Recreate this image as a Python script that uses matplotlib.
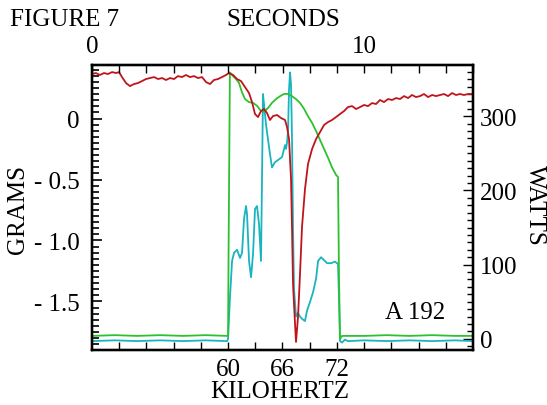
import numpy as np
import matplotlib
matplotlib.use("Agg")
import matplotlib.pyplot as plt

plt.rcParams['font.family'] = ['Liberation Serif', 'DejaVu Serif']

# ---- data ----
red_khz = [45.0, 45.44, 45.88, 46.32, 46.76, 47.21, 47.65, 47.98, 48.31, 48.75, 49.19, 49.63, 50.07,
           50.51, 50.95, 51.39, 51.84, 52.28, 52.72, 53.16, 53.60, 54.04, 54.48, 54.92, 55.36, 55.80,
           56.25, 56.69, 57.13, 57.57, 58.01, 58.45, 58.89, 59.33, 59.77, 60.10, 60.55, 60.99, 61.43,
           61.87, 62.31, 62.64, 62.97, 63.30, 63.63, 63.96, 64.29, 64.62, 64.95, 65.40, 65.84, 66.28,
           66.50, 66.72, 66.94, 67.05, 67.16, 67.38, 67.49, 67.71, 67.93, 68.15, 68.48, 68.81, 69.26,
           69.70, 70.14, 70.58, 71.02, 71.46, 71.90, 72.34, 72.78, 73.22, 73.67, 74.11, 74.55, 74.99,
           75.43, 75.87, 76.31, 76.75, 77.19, 77.64, 78.08, 78.52, 78.96, 79.40, 79.84, 80.28, 80.72,
           81.16, 81.60, 82.05, 82.49, 82.93, 83.37, 83.81, 84.25, 84.69, 85.13, 85.57, 86.01, 86.46, 87.0]
red_grams = [0.365, 0.373, 0.357, 0.373, 0.365, 0.381, 0.373, 0.381, 0.340, 0.291, 0.266, 0.283, 0.291,
             0.307, 0.324, 0.332, 0.340, 0.324, 0.332, 0.316, 0.332, 0.324, 0.348, 0.340, 0.357, 0.340,
             0.348, 0.332, 0.340, 0.299, 0.283, 0.316, 0.324, 0.340, 0.357, 0.373, 0.357, 0.324, 0.307,
             0.258, 0.209, 0.135, 0.037, 0.012, 0.061, 0.078, 0.045, -0.012, 0.020, 0.029, 0.004, -0.012,
             -0.070, -0.168, -0.496, -0.906, -1.357, -1.684, -1.832, -1.627, -1.275, -0.889, -0.578, -0.373, -0.250,
             -0.168, -0.111, -0.053, -0.029, -0.012, 0.012, 0.037, 0.061, 0.094, 0.102, 0.078, 0.094, 0.111,
             0.102, 0.127, 0.119, 0.152, 0.135, 0.160, 0.152, 0.168, 0.160, 0.184, 0.168, 0.193, 0.176,
             0.184, 0.201, 0.176, 0.193, 0.184, 0.193, 0.201, 0.184, 0.209, 0.193, 0.201, 0.193, 0.201, 0.201]

green_khz = [45.0, 47.5, 50.0, 52.5, 55.0, 57.5, 59.95, 60.0, 60.05, 60.2, 60.55, 60.88, 61.2, 61.54,
             61.87, 62.31, 62.75, 63.19, 63.63, 63.96, 64.4, 64.84, 65.28, 65.73, 66.17, 66.61, 67.05,
             67.49, 67.93, 68.37, 68.81, 69.26, 69.7, 70.14, 70.58, 71.02, 71.46, 71.9, 72.12, 72.23,
             72.34, 72.56, 75.0, 77.5, 80.0, 82.5, 85.0, 87.0]
green_watts = [4, 5, 4, 5, 4, 5, 4, 4, 108, 359, 354, 350, 345, 332,
               323, 319, 318, 314, 307, 306, 311, 318, 323, 327, 330, 330, 327,
               323, 318, 310, 300, 291, 280, 268, 256, 244, 231, 221, 218, 81,
               0, 4, 4, 5, 4, 5, 4, 4]

cyan_khz = [45.0, 47.5, 50.0, 52.5, 55.0, 57.5, 59.9, 60.0, 60.2, 60.44, 60.66, 60.99, 61.32, 61.54,
            61.76, 61.98, 62.09, 62.31, 62.53, 62.75, 62.97, 63.19, 63.41, 63.63, 63.74, 63.85, 63.96,
            64.18, 64.4, 64.62, 64.84, 65.17, 65.51, 65.95, 66.28, 66.39, 66.5, 66.61, 66.72, 66.83,
            66.94, 67.05, 67.16, 67.27, 67.49, 67.71, 67.93, 68.15, 68.48, 68.7, 69.04, 69.37, 69.7,
            69.92, 70.25, 70.58, 70.91, 71.35, 71.79, 72.12, 72.23, 72.34, 72.56, 72.89, 73.22, 75.0,
            77.5, 80.0, 82.5, 85.0, 87.0]
cyan_watts = [-3, -2, -3, -2, -3, -2, -3, 0, 54, 105, 116, 120, 109, 116,
              162, 179, 168, 105, 83, 114, 175, 179, 155, 105, 215, 330, 316,
              289, 269, 249, 231, 238, 241, 245, 261, 256, 265, 280, 336, 359,
              343, 269, 148, 67, 30, 35, 30, 27, 24, 38, 50, 63, 81,
              105, 110, 106, 102, 102, 104, 101, 54, -3, -5, -1, -3, -2,
              -3, -2, -3, -2, -3]

khz_ticks = [60, 66, 72]
sec_ticks = [0, 10]
gram_ticks = [0, -0.5, -1.0, -1.5]
gram_labels = ['0', '- 0.5', '- 1.0', '- 1.5']
watt_ticks = [0, 100, 200, 300]

RED = '#c0141c'
GREEN = '#2ec12e'
CYAN = '#19b4c0'
FS = 18

W, H = 547, 406
fig = plt.figure(figsize=(W / 100, H / 100), dpi=100)
fig.patch.set_facecolor('white')
ax = fig.add_axes([92 / W, 1 - 351 / H, 381 / W, 285 / H])
ax2 = ax.twinx()
ax3 = ax.twiny()

ax.set_xlim(45, 87)
ax.set_ylim(-1.898, 0.439)
ax2.set_ylim(-15, 369)
ax3.set_xlim(0, 14)

ax2.plot(cyan_khz, cyan_watts, color=CYAN, lw=1.3)
ax2.plot(green_khz, green_watts, color=GREEN, lw=1.3)
ax.plot(red_khz, red_grams, color=RED, lw=1.3)

ax.set_zorder(3)
ax.patch.set_visible(False)
ax2.set_zorder(2)
ax3.set_zorder(4)
ax3.patch.set_visible(False)

for a in (ax, ax2, ax3):
    for s in a.spines.values():
        s.set_linewidth(1.6)

# bottom axis (kHz)
ax.set_xticks(np.arange(48, 87, 3))
ax.set_xticklabels([str(int(v)) if v in khz_ticks else '' for v in np.arange(48, 87, 3)])
ax.tick_params(axis='x', direction='in', length=6, width=1, labelsize=FS, pad=6)

# left axis (grams)
ax.set_yticks(gram_ticks)
ax.set_yticklabels(gram_labels)
ax.set_yticks(np.arange(-1.85, 0.44, 0.05), minor=True)
ax.tick_params(axis='y', which='major', direction='in', length=7, width=1.2, labelsize=FS, pad=9)
ax.tick_params(axis='y', which='minor', direction='in', length=5, width=1.2)

# right axis (watts)
ax2.set_yticks(watt_ticks)
ax2.set_yticks(np.arange(-10, 369, 10), minor=True)
ax2.tick_params(axis='y', which='major', direction='in', length=7, width=1, labelsize=FS, pad=5)
ax2.tick_params(axis='y', which='minor', direction='in', length=4, width=1)

# top axis (seconds)
ax3.set_xticks(np.arange(0, 15, 1))
ax3.set_xticklabels([str(v) if v in sec_ticks else '' for v in range(15)])
ax3.tick_params(axis='x', direction='in', length=6, width=1, labelsize=FS, pad=6)

def ftext(x, y, s, **kw):
    fig.text(x / W, 1 - y / H, s, fontsize=FS, va='center', **kw)

ftext(10, 20, 'FIGURE 7', ha='left')
ftext(283, 20, 'SECONDS', ha='center')
ftext(280, 392, 'KILOHERTZ', ha='center')
ftext(18, 210, 'GRAMS', ha='center', rotation=90)
ftext(535, 205, 'WATTS', ha='center', rotation=-90)
ftext(415, 313, 'A 192', ha='center')

fig.savefig('out.png', dpi=100, facecolor='white')
